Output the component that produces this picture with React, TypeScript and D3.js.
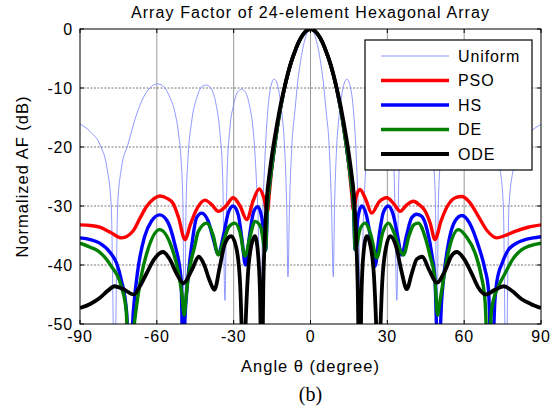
import * as d3 from "d3";

type Pt = [number, number];

// angle (deg), normalized AF (dB)
const uniform: Pt[] = [
  [-90, -16.1], [-86, -17.4], [-82, -19.8], [-79.5, -23.5], [-77.8, -30], [-76.5, -60], [-75.3, -30],
  [-73.8, -23.5], [-71.3, -19.6], [-68, -14.6], [-65, -11.4], [-62, -9.7], [-59.6, -9.3], [-57, -9.9],
  [-55, -11.5], [-53, -14], [-51.5, -17.8], [-50.5, -22.4], [-49.8, -30], [-49.2, -60], [-48.6, -30],
  [-47.9, -22.4], [-46.5, -16], [-44.2, -11.4], [-42.5, -9.8], [-40.6, -9.5], [-38.8, -10.1], [-37, -12.5],
  [-35.5, -17], [-34.3, -25], [-33.4, -46], [-32.6, -25], [-31.5, -17], [-30, -12.8], [-28.5, -10.7],
  [-26.9, -10.2], [-25.3, -10.8], [-23.8, -13], [-22.3, -17.5], [-21.2, -25], [-20.3, -35], [-19.6, -60],
  [-18.8, -35], [-17.8, -22], [-16.5, -13], [-15.3, -9.4], [-14.2, -8.5], [-13, -9.3], [-12, -11.5],
  [-11, -15], [-10, -21], [-9.3, -30], [-8.8, -42], [-8.2, -30], [-7.3, -20], [-6, -13.5], [-5, -9],
  [-4, -5.8], [-3, -3.3], [-2, -1.5], [-1, -0.4], [0, 0],
  [1, -0.4], [2, -1.5], [3, -3.3], [4, -5.8], [5, -9], [6, -13.5], [7.3, -20], [8.2, -30], [8.9, -42],
  [9.4, -30], [10.1, -21], [11.1, -15], [12.1, -11.5], [13.1, -9.3], [14.2, -8.5], [15.3, -9.4],
  [16.6, -13], [17.9, -22], [18.9, -35], [19.8, -60], [20.5, -35], [21.4, -25], [22.5, -17.5], [24, -13],
  [25.5, -10.8], [27, -10.2], [28.6, -10.7], [30.1, -12.8], [31.6, -17], [32.7, -25], [33.7, -46],
  [34.5, -25], [35.7, -17], [37.2, -12.5], [39, -10.1], [40.8, -9.5], [42.6, -9.8], [44.3, -11.4],
  [46.6, -16], [48, -22.4], [48.8, -30], [49.3, -60], [49.9, -30], [50.7, -22.4], [51.7, -17.8],
  [53.2, -14], [55.2, -11.5], [57.2, -9.9], [59.7, -9.3], [62.1, -9.7], [65.1, -11.4], [68.1, -14.6],
  [71.4, -19.6], [73.9, -23.5], [75.3, -30], [76.3, -60], [77.5, -30], [79.3, -23.5], [82, -19.8],
  [86, -17.4], [90, -16.2],
];

const pso: Pt[] = [
  [-90, -33.2], [-86, -33.3], [-82.3, -33.6], [-78, -34.5], [-73.8, -35.4], [-69.2, -34.2], [-66.5, -32],
  [-64, -30.1], [-61, -28.7], [-58.8, -28.3], [-56, -28.7], [-53.6, -29.6], [-51.5, -32], [-49, -35.7],
  [-46.8, -33], [-44.5, -30.6], [-41.2, -29], [-38.5, -29.8], [-36, -30.9], [-33, -30], [-30.2, -28.6],
  [-27.5, -30], [-24.9, -32.3], [-22.3, -29], [-20, -27.1], [-18.3, -28.5], [-16.8, -31], [-16, -27.5],
  [-15, -23.2], [-14, -19.8], [-13, -16.8], [-12, -14.1], [-11, -11.8], [-10, -9.7], [-9, -7.9],
  [-8, -6.3], [-7, -4.9], [-6, -3.7], [-5, -2.6], [-4, -1.7], [-3, -1], [-2, -0.45], [-1, -0.12], [0, 0],
  [1, -0.12], [2, -0.45], [3, -1], [4, -1.7], [5, -2.6], [6, -3.7], [7, -4.9], [8, -6.3], [9, -7.9],
  [10, -9.7], [11, -11.8], [12, -14.1], [13, -16.8], [14, -19.8], [15, -23.2], [16, -27.5], [16.8, -30.8],
  [17.8, -28.5], [19.3, -27.2], [21.5, -28.8], [23.9, -31.2], [26.8, -29.3], [29.8, -28.6], [32.5, -29.6],
  [35, -30.9], [37.6, -29.8], [40.2, -29.2], [42.5, -29.8], [44.7, -30.8], [46.8, -33], [48.6, -35.7],
  [51, -32.5], [53.5, -30], [56.5, -28.6], [59.1, -28.4], [62, -29.3], [65.6, -31.8], [69, -34.2],
  [72.7, -35.4], [76, -35], [79.9, -34.3], [85, -33.6], [90, -33.2],
];

const hs: Pt[] = [
  [-90, -35.4], [-86, -35.7], [-82.3, -36.3], [-78, -38], [-75.7, -39.7], [-73.9, -42.5], [-71.8, -48],
  [-70.5, -58], [-69.2, -48], [-67.4, -40.8], [-64.8, -35.2], [-62, -32.5], [-58.9, -31.5], [-56, -32.5],
  [-53.1, -36.3], [-50.5, -42.5], [-49.8, -58], [-48.9, -48], [-47.9, -42.5], [-46, -35.5], [-44.5, -32],
  [-42.5, -31.2], [-40, -32.5], [-38, -35.5], [-36, -38.2], [-34, -35], [-32, -31], [-30.2, -30],
  [-28.2, -31.5], [-26.8, -35.5], [-25.4, -40], [-23.8, -35], [-22.2, -31], [-20.6, -30.1], [-19, -32],
  [-17.5, -37.5], [-16.8, -30], [-16, -26.5], [-15, -23], [-14, -19.8], [-13, -16.8], [-12, -14.1],
  [-11, -11.8], [-10, -9.7], [-9, -7.9], [-8, -6.3], [-7, -4.9], [-6, -3.7], [-5, -2.6], [-4, -1.7],
  [-3, -1], [-2, -0.45], [-1, -0.12], [0, 0],
  [1, -0.12], [2, -0.45], [3, -1], [4, -1.7], [5, -2.6], [6, -3.7], [7, -4.9], [8, -6.3], [9, -7.9],
  [10, -9.7], [11, -11.8], [12, -14.1], [13, -16.8], [14, -19.8], [15, -23], [16, -26.5], [16.8, -30],
  [17.4, -37.4], [18.5, -32], [20, -30], [21.8, -31.5], [23.5, -35.5], [25.2, -40.2], [26.8, -35],
  [28.5, -31], [30.4, -30], [32.3, -31.5], [34, -35], [35.6, -38.3], [37.5, -35], [39.5, -32],
  [41.5, -31.4], [43.5, -31.8], [45.5, -34], [47.5, -38.5], [48.6, -42.5], [49.9, -58], [51.2, -46],
  [51.9, -42.5], [54, -36], [56.5, -32.5], [59.1, -31.6], [62, -32.8], [65.6, -36.8], [68, -40.5],
  [69.5, -44.2], [70.8, -58], [72, -46], [72.7, -43], [75, -39.5], [77.3, -37.4], [80, -36.4],
  [83.8, -35.7], [87, -35.4], [90, -35.2],
];

const de: Pt[] = [
  [-90, -36.3], [-86, -37], [-83, -37.6], [-77.8, -40.2], [-73.9, -43.6], [-72, -47.6], [-70.7, -58],
  [-68.8, -50], [-66.1, -41.9], [-63.5, -37.4], [-58.9, -34], [-54.4, -36.8], [-51.8, -40.8],
  [-50.2, -45], [-49.3, -48.5], [-48.5, -45], [-47.9, -42.5], [-45.2, -36.8], [-43.9, -34.4],
  [-40.5, -32.9], [-38, -35], [-36, -38.3], [-34, -36], [-31.8, -33.5], [-29.5, -32.9], [-27.5, -34.5],
  [-25.6, -38.5], [-23.5, -35], [-21.7, -32.6], [-19.5, -33.5], [-17.6, -37.5], [-16.8, -30], [-16, -26.5],
  [-15, -23], [-14, -19.8], [-13, -16.8], [-12, -14.1], [-11, -11.8], [-10, -9.7], [-9, -7.9],
  [-8, -6.3], [-7, -4.9], [-6, -3.7], [-5, -2.6], [-4, -1.7], [-3, -1], [-2, -0.45], [-1, -0.12], [0, 0],
  [1, -0.12], [2, -0.45], [3, -1], [4, -1.7], [5, -2.6], [6, -3.7], [7, -4.9], [8, -6.3], [9, -7.9],
  [10, -9.7], [11, -11.8], [12, -14.1], [13, -16.8], [14, -19.8], [15, -23], [16, -26.5], [16.8, -30],
  [17.5, -37.4], [19.3, -34], [21.3, -32.9], [23.5, -34.8], [25.9, -38.8], [28.2, -34.5], [30.4, -32.9],
  [32.6, -34.5], [34.5, -37], [36.3, -38.3], [38.5, -35], [40.3, -33.2], [42.1, -32.9], [44.7, -35.2],
  [46.7, -38.5], [48.6, -42.5], [49.6, -48.5], [50.6, -46], [51.9, -42.5], [54, -37.5], [57.8, -34],
  [61, -35.3], [64.3, -38], [66.5, -41.5], [68.2, -46.4], [69.4, -58], [70.6, -48], [71.4, -46],
  [73.5, -43.5], [76, -41.4], [79, -39], [82.5, -37.4], [86, -36.7], [90, -36.3],
];

const ode: Pt[] = [
  [-90, -47.3], [-86, -46.6], [-82.3, -45.6], [-79, -44.3], [-76.5, -43.6], [-73.5, -44], [-69, -45],
  [-66.5, -43.5], [-64, -41.4], [-61, -39], [-57.6, -37.8], [-55, -39], [-52.5, -41.3], [-49.6, -43.1],
  [-46.5, -41], [-43.6, -38.6], [-41.5, -40], [-39.5, -42.5], [-37.5, -44.2], [-35.5, -40.5],
  [-33.5, -36.5], [-31, -35.1], [-29, -37], [-27.5, -43], [-26.8, -52], [-26.2, -62], [-25.5, -52],
  [-24.5, -42], [-23, -36.5], [-21.7, -35.1], [-20.5, -38], [-19.7, -45], [-19, -62], [-18.4, -43],
  [-17.8, -35], [-17, -28.5], [-16, -24.5], [-15, -21.3], [-14, -18.5], [-13, -16], [-12, -13.6],
  [-11, -11.5], [-10, -9.6], [-9, -7.8], [-8, -6.2], [-7, -4.9], [-6, -3.7], [-5, -2.6], [-4, -1.7],
  [-3, -1], [-2, -0.45], [-1, -0.12], [0, 0],
  [1, -0.12], [2, -0.45], [3, -1], [4, -1.7], [5, -2.6], [6, -3.7], [7, -4.9], [8, -6.2], [9, -7.8],
  [10, -9.6], [11, -11.5], [12, -13.6], [13, -16], [14, -18.5], [15, -21.3], [16, -24.5], [17, -28.5],
  [17.8, -35], [18.4, -43], [19.2, -62], [19.9, -45], [20.7, -38], [22, -35.1], [23.3, -36.5],
  [24.8, -42], [25.8, -52], [26.5, -62], [27.2, -52], [28, -43], [29.5, -37], [31.1, -35.1], [33.5, -37],
  [35.5, -41], [37.6, -44.1], [39.5, -41.5], [41.5, -39], [43.6, -38.6], [46.5, -41], [49.3, -43],
  [52.5, -41], [55, -38.5], [57.1, -37.8], [60, -39], [63, -41.5], [65.5, -43.8], [68.5, -45],
  [72, -44.2], [75.5, -43.6], [79, -44.5], [82.5, -45.8], [86, -46.6], [90, -47.3],
];

const seriesNames = ["Uniform", "PSO", "HS", "DE", "ODE"];
const seriesColors = ["#7d86ff", "#ff0000", "#0000ff", "#008000", "#000000"];
const seriesWidths = [1, 3.4, 3.4, 3.4, 3.8];
const seriesData = [uniform, pso, hs, de, ode];

const xTicks = [-90, -60, -30, 0, 30, 60, 90];
const yTicks = [0, -10, -20, -30, -40, -50];

const W = 557;
const H = 408;
const plot = { left: 80, right: 541, top: 29, bottom: 324 };
const font = "Arial, 'Liberation Sans', sans-serif";

export default function App() {
  const x = d3.scaleLinear().domain([-90, 90]).range([plot.left, plot.right]);
  const y = d3.scaleLinear().domain([-50, 0]).range([plot.bottom, plot.top]);
  const line = d3
    .line<Pt>()
    .x((d) => x(d[0]))
    .y((d) => y(d[1]))
    .curve(d3.curveMonotoneX);

  const legend = { x: 365, y: 40, w: 167, h: 130, row0: 56, step: 24.5 };

  return (
    <svg
      width={W}
      height={H}
      style={{ position: "absolute", left: 0, top: 0, background: "#fff" }}
      fontFamily={font}
    >
      <defs>
        <clipPath id="plotClip">
          <rect x={plot.left} y={plot.top} width={plot.right - plot.left} height={plot.bottom - plot.top} />
        </clipPath>
      </defs>
      <rect width={W} height={H} fill="#fff" />

      {/* grid */}
      {xTicks.slice(1, -1).map((t) => (
        <line key={"gx" + t} x1={x(t)} x2={x(t)} y1={plot.top} y2={plot.bottom} stroke="#9a9a9a" strokeWidth={1} />
      ))}
      {yTicks.slice(1, -1).map((t) => (
        <line
          key={"gy" + t}
          x1={plot.left}
          x2={plot.right}
          y1={y(t)}
          y2={y(t)}
          stroke="#555"
          strokeWidth={0.8}
          strokeDasharray="2,1.5"
        />
      ))}

      {/* curves */}
      <g clipPath="url(#plotClip)">
        {seriesData.map((d, i) => (
          <path
            key={seriesNames[i]}
            d={line(d) ?? ""}
            fill="none"
            stroke={seriesColors[i]}
            strokeWidth={seriesWidths[i]}
            strokeLinejoin="round"
            opacity={i === 0 ? 0.85 : 1}
          />
        ))}
      </g>

      {/* axes box and ticks */}
      <rect
        x={plot.left}
        y={plot.top}
        width={plot.right - plot.left}
        height={plot.bottom - plot.top}
        fill="none"
        stroke="#000"
        strokeWidth={1}
      />
      {xTicks.map((t) => (
        <g key={"tx" + t}>
          <line x1={x(t)} x2={x(t)} y1={plot.bottom} y2={plot.bottom - 4} stroke="#000" />
          <line x1={x(t)} x2={x(t)} y1={plot.top} y2={plot.top + 4} stroke="#000" />
          <text x={x(t)} y={plot.bottom + 18} textAnchor="middle" fontSize={16} letterSpacing={0.8}>
            {t}
          </text>
        </g>
      ))}
      {yTicks.map((t) => (
        <g key={"ty" + t}>
          <line x1={plot.left} x2={plot.left + 4} y1={y(t)} y2={y(t)} stroke="#000" />
          <line x1={plot.right} x2={plot.right - 4} y1={y(t)} y2={y(t)} stroke="#000" />
          <text x={plot.left - 7} y={y(t)} dy="0.35em" textAnchor="end" fontSize={16} letterSpacing={0.8}>
            {t}
          </text>
        </g>
      ))}

      {/* titles */}
      <text x={(plot.left + plot.right) / 2} y={18} textAnchor="middle" fontSize={16} letterSpacing={1.1}>
        Array Factor of 24-element Hexagonal Array
      </text>
      <text x={(plot.left + plot.right) / 2} y={372} textAnchor="middle" fontSize={16.5} letterSpacing={1}>
        Angle θ (degree)
      </text>
      <text
        transform={`translate(28,${(plot.top + plot.bottom) / 2}) rotate(-90)`}
        textAnchor="middle"
        fontSize={16.5}
        letterSpacing={1}
      >
        Normalized AF (dB)
      </text>
      <text x={(plot.left + plot.right) / 2} y={401} textAnchor="middle" fontSize={20} fontFamily="'Times New Roman', 'Liberation Serif', serif">
        (b)
      </text>

      {/* legend */}
      <rect x={legend.x} y={legend.y} width={legend.w} height={legend.h} fill="#fff" stroke="#000" strokeWidth={1.2} />
      {seriesNames.map((n, i) => {
        const ly = legend.row0 + i * legend.step;
        return (
          <g key={"lg" + n}>
            <line
              x1={legend.x + 16}
              x2={legend.x + 84}
              y1={ly}
              y2={ly}
              stroke={seriesColors[i]}
              strokeWidth={seriesWidths[i]}
              opacity={i === 0 ? 0.85 : 1}
            />
            <text x={legend.x + 93} y={ly} dy="0.36em" fontSize={16} letterSpacing={0.9}>
              {n}
            </text>
          </g>
        );
      })}
    </svg>
  );
}
